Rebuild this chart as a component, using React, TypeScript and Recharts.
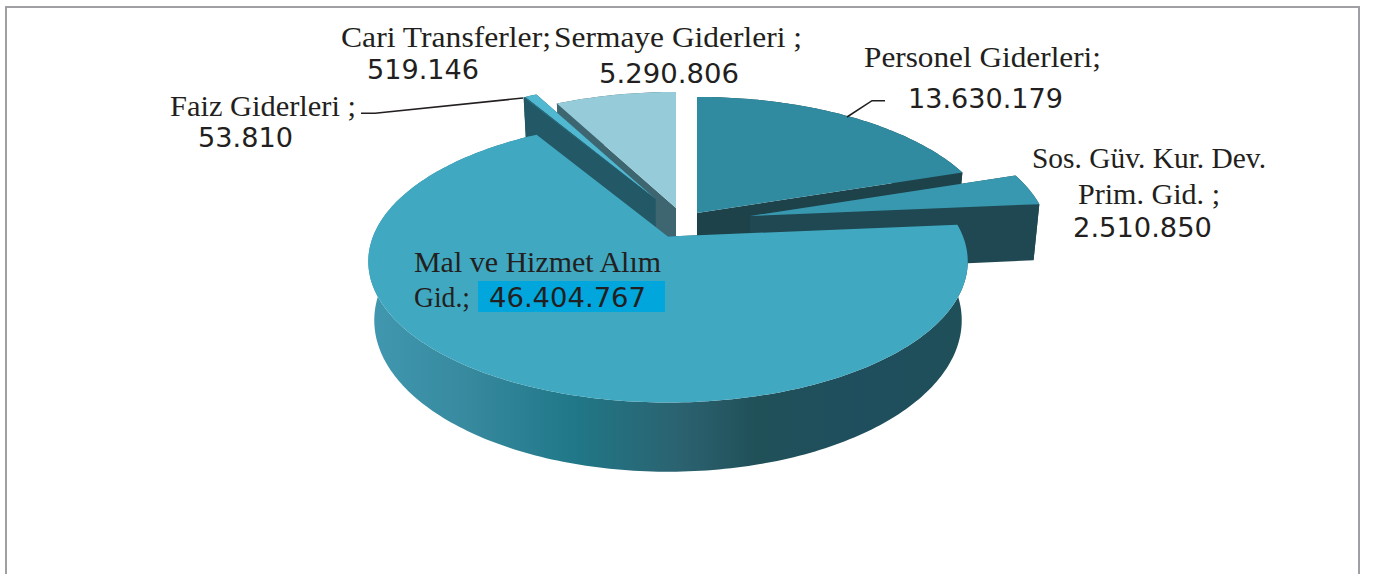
import { PieChart, Pie, Cell } from 'recharts';

// budget items, clockwise from 12 o'clock
const categories = [
    'Personel Giderleri',
    'Sos. Güv. Kur. Dev. Prim. Gid.',
    'Mal ve Hizmet Alım Gid.',
    'Faiz Giderleri',
    'Cari Transferler',
    'Sermaye Giderleri',
];
const values = [13630179, 2510850, 46404767, 53810, 519146, 5290806];
const data = categories.map((name, i) => ({ name, value: values[i] }));

// exploded slice apex relative to the pie centre, one per category
const explode = [
    [29, -23.5],
    [82, -20.5],
    [0, 0],
    [-13, -37.5],
    [-12.5, -37.5],
    [8, -28.5],
];
const topColors = ['#308aa0', '#3898af', '#40a8c0', '#2a7488', '#50b8d0', '#96ccda'];
const wallColors = ['#1d424a', '#204852', 'url(#malWall)', '#235866', '#235866', '#3e6670'];
const drawOrder = [0, 5, 4, 3, 1, 2];

const CX = 668;
const CY = 236.5;
const R = 295;
const FLAT = 136.6 / 295; // vertical squash of the disc
const PERSP = 0.177; // near edge looks bigger than the far edge
const DEPTH = 57;
const SHRINK = 0.98; // bottom disc is a little narrower

function fmt(v: number) {
    return String(v).replace(/\B(?=(\d{3})+$)/g, '.');
}

function topPoint(deg: number, r: number, ax: number, ay: number) {
    const a = (deg * Math.PI) / 180;
    const u = Math.cos(a) * (r / R);
    const v = -Math.sin(a) * (r / R);
    const w = 1 / (1 - PERSP * v);
    return { x: ax + r * (u / (r / R)) * (r / R) * w, y: ay + R * FLAT * v * w, w };
}

function bottomOf(p: { x: number; y: number; w: number }, ax: number) {
    return { x: ax + (p.x - ax) * SHRINK, y: p.y + DEPTH * p.w, w: p.w };
}

function toPath(pts: { x: number; y: number }[]) {
    return 'M' + pts.map((p) => `${p.x.toFixed(2)},${p.y.toFixed(2)}`).join('L') + 'Z';
}

function Slice3D(props: any) {
    const i = categories.indexOf(props.name);
    const ax = props.cx + explode[i][0];
    const ay = props.cy + explode[i][1];
    const { startAngle, endAngle, outerRadius } = props;
    const steps = Math.max(2, Math.ceil(Math.abs(endAngle - startAngle)));
    const arc = [];
    for (let s = 0; s <= steps; s++) {
        arc.push(topPoint(startAngle + ((endAngle - startAngle) * s) / steps, outerRadius, ax, ay));
    }
    const apex = { x: ax, y: ay, w: 1 };
    const apexB = bottomOf(apex, ax);
    const first = arc[0];
    const last = arc[arc.length - 1];
    const wall = wallColors[i];
    const flatWall = i === 2 ? '#1f4e5a' : wall;
    return (
        <g>
            <path d={toPath([apex, first, bottomOf(first, ax), apexB])} fill={flatWall} />
            <path d={toPath([apex, last, bottomOf(last, ax), apexB])} fill={flatWall} />
            <path d={toPath([...arc, ...arc.map((p) => bottomOf(p, ax)).reverse()])} fill={wall} />
            <path d={toPath([apex, ...arc])} fill={topColors[i]} />
        </g>
    );
}

const nameFont = '"Liberation Serif", serif';
const numFont = '"DejaVu Sans", sans-serif';

const nameLines = [
    { text: 'Cari Transferler;', x: 341, y: 47, w: 210 },
    { text: 'Sermaye Giderleri ;', x: 554, y: 47, w: 248 },
    { text: 'Personel Giderleri;', x: 864, y: 67, w: 237 },
    { text: 'Sos. Güv. Kur. Dev.', x: 1032, y: 168, w: 234 },
    { text: 'Prim. Gid. ;', x: 1078, y: 204, w: 142 },
    { text: 'Faiz Giderleri ;', x: 170, y: 116, w: 186 },
    { text: 'Mal ve Hizmet Alım', x: 414, y: 272, w: 247 },
    { text: 'Gid.;', x: 414, y: 307, w: 56 },
];
const valueLines = [
    { value: values[4], x: 367, y: 79, w: 112 },
    { value: values[5], x: 599, y: 83, w: 140 },
    { value: values[0], x: 908, y: 108, w: 155 },
    { value: values[1], x: 1073, y: 237, w: 139 },
    { value: values[3], x: 198, y: 147, w: 95 },
    { value: values[2], x: 489, y: 307, w: 157 },
];

export default function App() {
    return (
        <div style={{ position: 'absolute', left: 0, top: 0, width: 1373, height: 574, overflow: 'hidden', background: '#fff' }}>
            <div
                style={{
                    position: 'absolute',
                    left: 5,
                    top: 6,
                    width: 1351,
                    height: 700,
                    border: '2px solid #a0a0a4',
                }}
            />
            <div style={{ position: 'absolute', left: 0, top: 0 }}>
                <PieChart width={1373} height={574} margin={{ top: 0, right: 0, bottom: 0, left: 0 }}>
                    <defs>
                        <linearGradient id="malWall" gradientUnits="userSpaceOnUse" x1="368" y1="0" x2="968" y2="0">
                            <stop offset="0" stopColor="#4098b0" />
                            <stop offset="0.17" stopColor="#37899e" />
                            <stop offset="0.34" stopColor="#207888" />
                            <stop offset="0.52" stopColor="#2b6270" />
                            <stop offset="0.65" stopColor="#205058" />
                            <stop offset="0.82" stopColor="#1f4f5e" />
                            <stop offset="1" stopColor="#1f4f58" />
                        </linearGradient>
                    </defs>
                    {drawOrder.map((idx) => (
                        <Pie
                            key={categories[idx]}
                            data={data}
                            dataKey="value"
                            nameKey="name"
                            cx={CX}
                            cy={CY}
                            outerRadius={R}
                            startAngle={90}
                            endAngle={-270}
                            stroke="none"
                            isAnimationActive={false}
                            shape={(p: any) => (p.name === categories[idx] ? <Slice3D {...p} /> : <g />)}
                        >
                            {data.map((d, i) => (
                                <Cell key={d.name} fill={topColors[i]} />
                            ))}
                        </Pie>
                    ))}
                </PieChart>
            </div>
            <svg width={1373} height={574} style={{ position: 'absolute', left: 0, top: 0 }}>
                <polyline points="847,117 872,100.7 885,100.7" fill="none" stroke="#231f20" strokeWidth={1.6} />
                <polyline points="361,113.3 375,113.3 523,98" fill="none" stroke="#231f20" strokeWidth={1.6} />
                <rect x={478} y={281} width={187} height={31} fill="#00a6dc" />
                {nameLines.map((l) => (
                    <text key={l.text} x={l.x} y={l.y} textLength={l.w} lengthAdjust="spacingAndGlyphs" fontFamily={nameFont} fontSize={30} fill="#231f20">
                        {l.text}
                    </text>
                ))}
                {valueLines.map((l) => (
                    <text key={l.value} x={l.x} y={l.y} textLength={l.w} lengthAdjust="spacingAndGlyphs" fontFamily={numFont} fontSize={27} fill="#231f20">
                        {fmt(l.value)}
                    </text>
                ))}
            </svg>
        </div>
    );
}
